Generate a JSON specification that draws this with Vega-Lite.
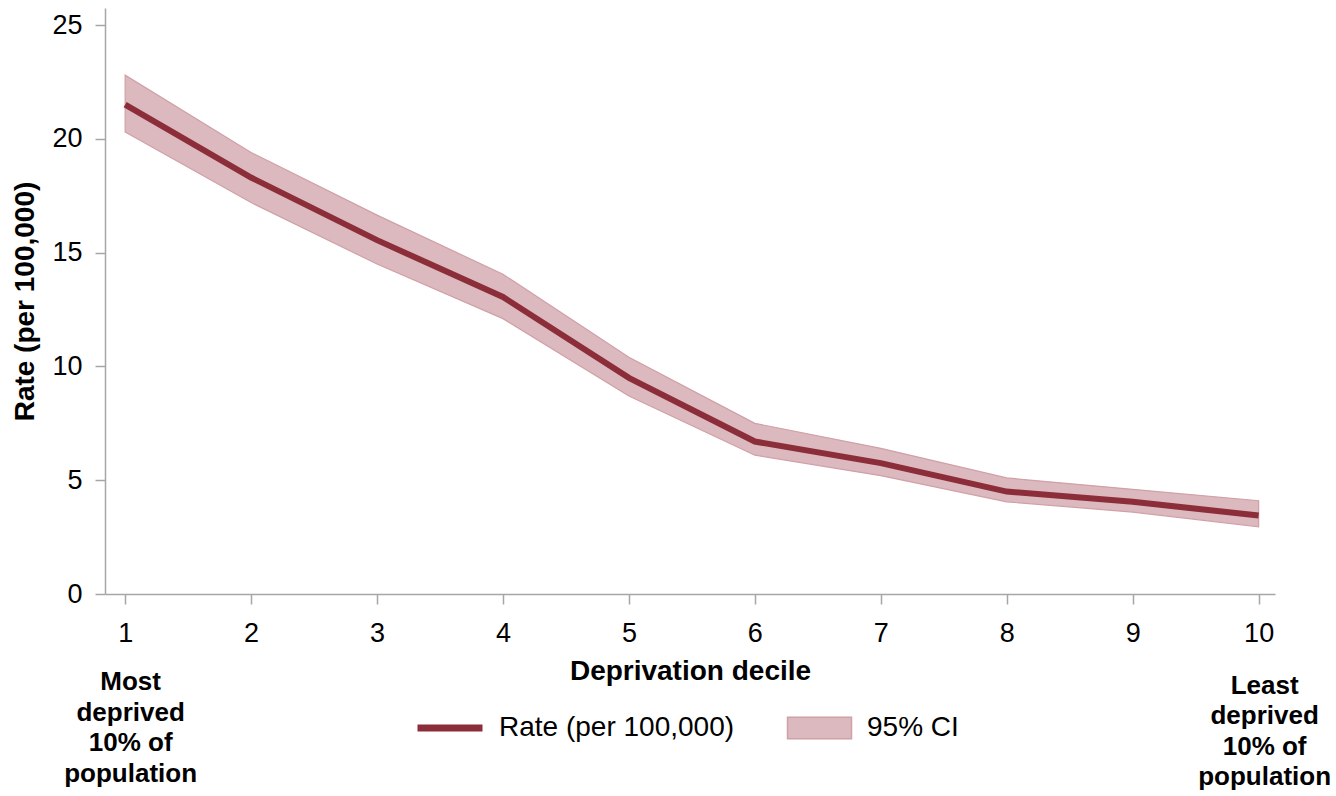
{
  "$schema": "https://vega.github.io/schema/vega-lite/v6.json",
  "width": 1170,
  "height": 586,
  "autosize": {"type": "none"},
  "padding": {"left": 105, "top": 8, "right": 61, "bottom": 202},
  "background": "white",
  "config": {
    "view": {"stroke": null},
    "font": "Liberation Sans",
    "axis": {"grid": false, "domainColor": "#a6a6a6", "domainWidth": 1.5, "tickColor": "#a6a6a6", "tickWidth": 1.5, "tickSize": 10, "labelFont": "Liberation Sans", "labelFontSize": 27, "labelColor": "#000000", "titleFont": "Liberation Sans", "titleFontSize": 28, "titleFontWeight": "bold", "titleColor": "#000000"}
  },
  "datasets": {
    "rates": [
      {"decile": 1, "rate": 21.5, "lo": 20.3, "hi": 22.8},
      {"decile": 2, "rate": 18.3, "lo": 17.2, "hi": 19.4},
      {"decile": 3, "rate": 15.55, "lo": 14.5, "hi": 16.65},
      {"decile": 4, "rate": 13.05, "lo": 12.1, "hi": 14.05},
      {"decile": 5, "rate": 9.5, "lo": 8.7, "hi": 10.4},
      {"decile": 6, "rate": 6.7, "lo": 6.1, "hi": 7.5},
      {"decile": 7, "rate": 5.75, "lo": 5.2, "hi": 6.4},
      {"decile": 8, "rate": 4.5, "lo": 4.05, "hi": 5.1},
      {"decile": 9, "rate": 4.05, "lo": 3.6, "hi": 4.6},
      {"decile": 10, "rate": 3.45, "lo": 2.95, "hi": 4.1}
    ],
    "notes": [
      {"decile": 1, "note": "Most\ndeprived\n10% of\npopulation"},
      {"decile": 10, "note": "Least\ndeprived\n10% of\npopulation"}
    ]
  },
  "data": {"name": "rates"},
  "layer": [
    {
      "mark": {"type": "area", "stroke": "#cfa0a7", "strokeWidth": 1.2, "opacity": 1},
      "encoding": {
        "x": {"field": "decile", "type": "quantitative", "scale": {"domain": [0.84, 10.13], "nice": false, "zero": false},
              "axis": {"values": [1,2,3,4,5,6,7,8,9,10], "title": "Deprivation decile", "labelPadding": 16, "titlePadding": 11, "format": "d"}},
        "y": {"field": "lo", "type": "quantitative", "scale": {"domain": [0, 25.75], "nice": false},
              "axis": {"values": [0,5,10,15,20,25], "title": "Rate (per 100,000)", "labelPadding": 13, "titlePadding": 12}},
        "y2": {"field": "hi"},
        "fill": {"datum": "95% CI", "type": "nominal", "scale": {"range": ["#dcb9be"]},
                 "legend": {"title": null, "orient": "none", "legendX": 700.5, "legendY": 706, "symbolType": "M-3,-1H3V1H-3Z", "symbolSize": 455, "symbolStrokeColor": "#cfa0a7", "symbolStrokeWidth": 1.5, "symbolOpacity": 1, "labelFontSize": 28, "labelColor": "#000000", "labelOffset": 33.5, "labelLimit": 500}}
      }
    },
    {
      "mark": {"type": "line", "strokeWidth": 6},
      "encoding": {
        "x": {"field": "decile", "type": "quantitative"},
        "y": {"field": "rate", "type": "quantitative"},
        "stroke": {"datum": "Rate (per 100,000)", "type": "nominal", "scale": {"range": ["#8c2d3a"]},
                   "legend": {"title": null, "orient": "none", "legendX": 309, "legendY": 684, "symbolType": "stroke", "symbolSize": 4225, "symbolStrokeWidth": 7, "labelFontSize": 28, "labelColor": "#000000", "labelOffset": 13, "labelLimit": 500}}
      }
    },
    {
      "data": {"name": "notes"},
      "transform": [{"filter": "datum.decile == 1"}],
      "mark": {"type": "text", "lineBreak": "\n", "fontWeight": "bold", "fontSize": 26, "lineHeight": 30.5, "align": "center", "baseline": "top", "dx": 5.5, "color": "#000000"},
      "encoding": {
        "x": {"field": "decile", "type": "quantitative"},
        "y": {"datum": -3.3, "type": "quantitative"},
        "text": {"field": "note", "type": "nominal"}
      }
    },
    {
      "data": {"name": "notes"},
      "transform": [{"filter": "datum.decile == 10"}],
      "mark": {"type": "text", "lineBreak": "\n", "fontWeight": "bold", "fontSize": 26, "lineHeight": 30.5, "align": "center", "baseline": "top", "dx": 6, "color": "#000000"},
      "encoding": {
        "x": {"field": "decile", "type": "quantitative"},
        "y": {"datum": -3.45, "type": "quantitative"},
        "text": {"field": "note", "type": "nominal"}
      }
    }
  ]
}
